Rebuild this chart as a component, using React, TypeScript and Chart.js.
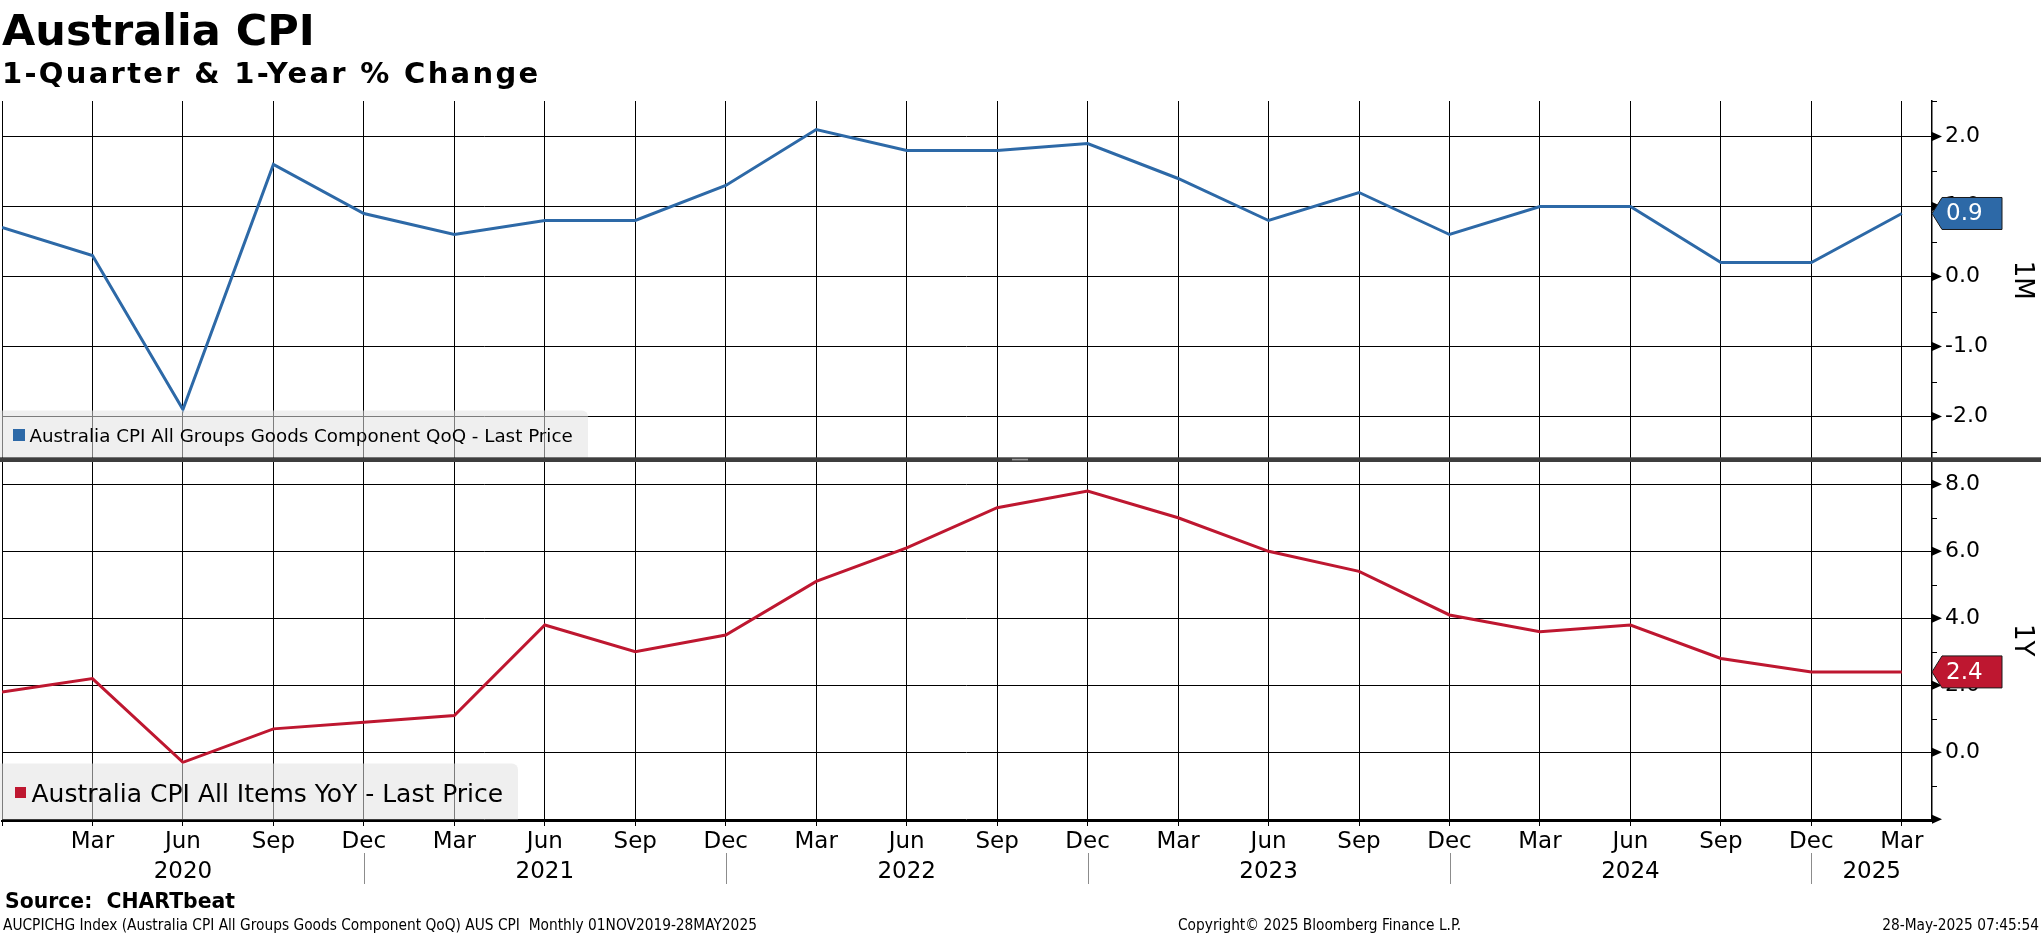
import React, { useEffect, useRef } from 'react';
import { Chart, registerables } from 'chart.js';

Chart.register(...registerables);

// ---------- DATA ----------
const quarters = [
  '2019-12', '2020-03', '2020-06', '2020-09', '2020-12', '2021-03', '2021-06', '2021-09',
  '2021-12', '2022-03', '2022-06', '2022-09', '2022-12', '2023-03', '2023-06', '2023-09',
  '2023-12', '2024-03', '2024-06', '2024-09', '2024-12', '2025-03',
];
const goodsQoQ = [0.7, 0.3, -1.9, 1.6, 0.9, 0.6, 0.8, 0.8, 1.3, 2.1, 1.8, 1.8, 1.9, 1.4, 0.8, 1.2, 0.6, 1.0, 1.0, 0.2, 0.2, 0.9];
const allItemsYoY = [1.8, 2.2, -0.3, 0.7, 0.9, 1.1, 3.8, 3.0, 3.5, 5.1, 6.1, 7.3, 7.8, 7.0, 6.0, 5.4, 4.1, 3.6, 3.8, 2.8, 2.4, 2.4];

const monthNames = ['Jan', 'Feb', 'Mar', 'Apr', 'May', 'Jun', 'Jul', 'Aug', 'Sep', 'Oct', 'Nov', 'Dec'];
const yearLabels = ['2020', '2021', '2022', '2023', '2024', '2025'];
const xStart = '2019-12';
const xEnd = '2025-04';

const topTicks = [-2.5, -2, -1.5, -1, -0.5, 0, 0.5, 1, 1.5, 2, 2.5];
const topMajor = [-2, -1, 0, 1, 2];
const topLabelled = [-2, -1, 0, 1, 2];
const botTicks = [-2, -1, 0, 1, 2, 3, 4, 5, 6, 7, 8];
const botMajor = [-2, 0, 2, 4, 6, 8];
const botLabelled = [0, 2, 4, 6, 8];

const seriesNames = [
  'Australia CPI All Groups Goods Component QoQ - Last Price',
  'Australia CPI All Items YoY - Last Price',
];
const axisTitles = ['1M', '1Y'];

// ---------- STYLE ----------
const BLUE = '#2D69A7';
const RED = '#BE1730';
const FONT = "'DejaVu Sans', sans-serif";
const W = 2041;
const H = 936;

const monthIndex = (s: string) => {
  const [y, m] = s.split('-').map(Number);
  return (y - 2019) * 12 + m - 12;
};
const xMin = monthIndex(xStart);
const xMax = monthIndex(xEnd);
const xs = quarters.map(monthIndex);

const decorPlugin = {
  id: 'decor',
  afterDraw(chart: any) {
    const ctx = chart.ctx as CanvasRenderingContext2D;
    const area = chart.chartArea;
    const xScale = chart.scales.x;
    ctx.save();

    // right-axis markers (arrows for major, short ticks for minor)
    const defs = [
      { id: 'yTop', major: topMajor },
      { id: 'yBot', major: botMajor },
    ];
    ctx.fillStyle = '#000';
    ctx.strokeStyle = '#000';
    ctx.lineWidth = 1;
    defs.forEach((d) => {
      const s = chart.scales[d.id];
      s.ticks.forEach((t: any) => {
        const y = s.getPixelForValue(t.value);
        if (d.major.includes(t.value)) {
          ctx.beginPath();
          ctx.moveTo(area.right, y - 4.5);
          ctx.lineTo(area.right + 10, y);
          ctx.lineTo(area.right, y + 4.5);
          ctx.closePath();
          ctx.fill();
        } else {
          ctx.beginPath();
          ctx.moveTo(area.right, Math.round(y) + 0.5);
          ctx.lineTo(area.right + 5, Math.round(y) + 0.5);
          ctx.stroke();
        }
      });
    });

    // year labels and separators
    ctx.font = `23px ${FONT}`;
    ctx.textAlign = 'center';
    ctx.textBaseline = 'alphabetic';
    ctx.fillStyle = '#000';
    yearLabels.forEach((yl) => {
      const yr = Number(yl);
      const a = monthIndex(`${yr - 1}-12`);
      const b = Math.min(monthIndex(`${yr}-12`), xMax);
      const px = xScale.getPixelForValue((a + b) / 2);
      ctx.fillText(yl, px, 877.5);
      if (b < xMax) {
        const sx = Math.round(xScale.getPixelForValue(b)) + 0.5;
        ctx.strokeStyle = '#8c8c8c';
        ctx.beginPath();
        ctx.moveTo(sx, 853);
        ctx.lineTo(sx, 884);
        ctx.stroke();
      }
    });

    // legends
    const legends = [
      { name: seriesNames[0], color: BLUE, box: [0, 410.5, 588, 47], sq: [13, 429, 12, 12], tx: 29.5, ty: 441.7, size: 18.3 },
      { name: seriesNames[1], color: RED, box: [0, 763.5, 518, 56], sq: [15, 787, 11, 11], tx: 31.5, ty: 801.7, size: 25 },
    ];
    legends.forEach((l) => {
      ctx.fillStyle = 'rgba(226,226,226,0.55)';
      ctx.beginPath();
      (ctx as any).roundRect(l.box[0], l.box[1], l.box[2], l.box[3], [0, 6, 0, 0]);
      ctx.fill();
      ctx.fillStyle = l.color;
      ctx.fillRect(l.sq[0], l.sq[1], l.sq[2], l.sq[3]);
      ctx.fillStyle = '#000';
      ctx.textAlign = 'left';
      ctx.textBaseline = 'alphabetic';
      ctx.font = `${l.size}px ${FONT}`;
      ctx.fillText(l.name, l.tx, l.ty);
    });

    // divider between panels
    ctx.fillStyle = '#3e3e3e';
    ctx.fillRect(0, 457.3, W, 4.7);
    ctx.fillStyle = '#9a9a9a';
    ctx.fillRect(1012, 458.8, 16, 1.6);

    // last-value badges
    const badges = [
      { id: 'yTop', v: goodsQoQ[goodsQoQ.length - 1], color: BLUE },
      { id: 'yBot', v: allItemsYoY[allItemsYoY.length - 1], color: RED },
    ];
    badges.forEach((b) => {
      const y = chart.scales[b.id].getPixelForValue(b.v);
      const x0 = area.right;
      ctx.beginPath();
      ctx.moveTo(x0, y);
      ctx.lineTo(x0 + 10, y - 16);
      ctx.lineTo(x0 + 70, y - 16);
      ctx.lineTo(x0 + 70, y + 16);
      ctx.lineTo(x0 + 10, y + 16);
      ctx.closePath();
      ctx.fillStyle = b.color;
      ctx.fill();
      ctx.strokeStyle = '#1b1b1b';
      ctx.lineWidth = 1;
      ctx.stroke();
      ctx.fillStyle = '#fff';
      ctx.font = `23px ${FONT}`;
      ctx.textAlign = 'left';
      ctx.textBaseline = 'middle';
      ctx.fillText(b.v.toFixed(1), x0 + 14, y + 1);
    });

    ctx.restore();
  },
};

const gridColor = (major: number[]) => (c: any) =>
  c.tick && major.includes(c.tick.value) ? '#000' : 'rgba(0,0,0,0)';

export default function App() {
  const ref = useRef<HTMLCanvasElement>(null);

  useEffect(() => {
    if (!ref.current) return;
    const chart = new Chart(ref.current, {
      type: 'line',
      data: {
        datasets: [
          {
            label: seriesNames[0],
            data: xs.map((x, i) => ({ x, y: goodsQoQ[i] })),
            borderColor: BLUE,
            borderWidth: 3,
            pointRadius: 0,
            tension: 0,
            yAxisID: 'yTop',
          },
          {
            label: seriesNames[1],
            data: xs.map((x, i) => ({ x, y: allItemsYoY[i] })),
            borderColor: RED,
            borderWidth: 3,
            pointRadius: 0,
            tension: 0,
            yAxisID: 'yBot',
          },
        ],
      },
      options: {
        animation: false,
        responsive: false,
        devicePixelRatio: 1,
        layout: { padding: { top: 101, left: 0, right: 0, bottom: 0 } },
        plugins: { legend: { display: false }, tooltip: { enabled: false }, title: { display: false } },
        scales: {
          x: {
            type: 'linear',
            position: 'bottom',
            min: xMin,
            max: xMax,
            bounds: 'data',
            afterBuildTicks: (s: any) => {
              s.ticks = xs.map((v) => ({ value: v }));
            },
            afterFit: (s: any) => {
              s.height = H - 821;
            },
            grid: { color: '#000', lineWidth: 1, tickLength: 5, tickColor: '#000', drawTicks: true },
            border: { display: true, color: '#000', width: 2 },
            ticks: {
              autoSkip: false,
              maxRotation: 0,
              padding: 2,
              color: '#000',
              font: { family: FONT, size: 23 },
              callback: (v: any) => {
                if (v === xMin) return '';
                const m = ((Number(v) + 11) % 12);
                return monthNames[m];
              },
            },
          },
          yTop: {
            type: 'linear',
            position: 'right',
            stack: 'panels',
            stackWeight: 358.5,
            min: -2.614,
            max: 2.507,
            bounds: 'data',
            afterBuildTicks: (s: any) => {
              s.ticks = topTicks.map((v) => ({ value: v }));
            },
            afterFit: (s: any) => {
              s.width = 109;
            },
            grid: { color: gridColor(topMajor), lineWidth: 1, drawTicks: true, tickLength: 10, tickColor: 'rgba(0,0,0,0)' },
            border: { display: true, color: '#000', width: 1.5 },
            ticks: {
              autoSkip: false,
              padding: 3,
              color: '#000',
              font: { family: FONT, size: 22 },
              callback: (v: any) => (topLabelled.includes(Number(v)) ? Number(v).toFixed(1) : ''),
            },
            title: { display: true, text: axisTitles[0], color: '#000', font: { family: FONT, size: 26 }, padding: { top: 4, bottom: 0 } },
          },
          yBot: {
            type: 'linear',
            position: 'right',
            stack: 'panels',
            stackWeight: 361.5,
            min: -2.05,
            max: 8.74,
            bounds: 'data',
            afterBuildTicks: (s: any) => {
              s.ticks = botTicks.map((v) => ({ value: v }));
            },
            afterFit: (s: any) => {
              s.width = 109;
            },
            grid: { color: gridColor(botMajor), lineWidth: 1, drawTicks: true, tickLength: 10, tickColor: 'rgba(0,0,0,0)' },
            border: { display: true, color: '#000', width: 1.5 },
            ticks: {
              autoSkip: false,
              padding: 3,
              color: '#000',
              font: { family: FONT, size: 22 },
              callback: (v: any) => (botLabelled.includes(Number(v)) ? Number(v).toFixed(1) : ''),
            },
            title: { display: true, text: axisTitles[1], color: '#000', font: { family: FONT, size: 26 }, padding: { top: 4, bottom: 0 } },
          },
        },
      } as any,
      plugins: [decorPlugin],
    });
    return () => chart.destroy();
  }, []);

  const txt = (extra: React.CSSProperties): React.CSSProperties => ({
    position: 'absolute',
    whiteSpace: 'pre',
    color: '#000',
    margin: 0,
    ...extra,
  });
  const small = "'DejaVu Sans Condensed', 'DejaVu Sans', sans-serif";

  return (
    <div style={{ position: 'fixed', left: 0, top: 0, width: W, height: H, background: '#fff', overflow: 'hidden' }}>
      <canvas ref={ref} width={W} height={H} style={{ position: 'absolute', left: 0, top: 0, width: W, height: H }} />
      <div style={txt({ left: 2, top: 9.3, font: `bold 43px ${FONT}`, lineHeight: '43px' })}>Australia CPI</div>
      <div style={txt({ left: 2, top: 58.8, font: `bold 29px ${FONT}`, lineHeight: '29px', letterSpacing: '2.3px' })}>1-Quarter &amp; 1-Year % Change</div>
      <div style={txt({ left: 5, top: 891, font: `bold 20.4px ${FONT}`, lineHeight: '20.4px' })}>Source:  CHARTbeat</div>
      <div style={txt({ left: 3, top: 918, font: `15.3px ${small}`, fontStretch: 'condensed', lineHeight: '15.3px' })}>
        AUCPICHG Index (Australia CPI All Groups Goods Component QoQ) AUS CPI  Monthly 01NOV2019-28MAY2025
      </div>
      <div style={txt({ left: 1178, top: 918, font: `15.3px ${small}`, fontStretch: 'condensed', lineHeight: '15.3px' })}>
        Copyright© 2025 Bloomberg Finance L.P.
      </div>
      <div style={txt({ right: 2, top: 918, font: `15.3px ${small}`, fontStretch: 'condensed', lineHeight: '15.3px' })}>
        28-May-2025 07:45:54
      </div>
    </div>
  );
}
